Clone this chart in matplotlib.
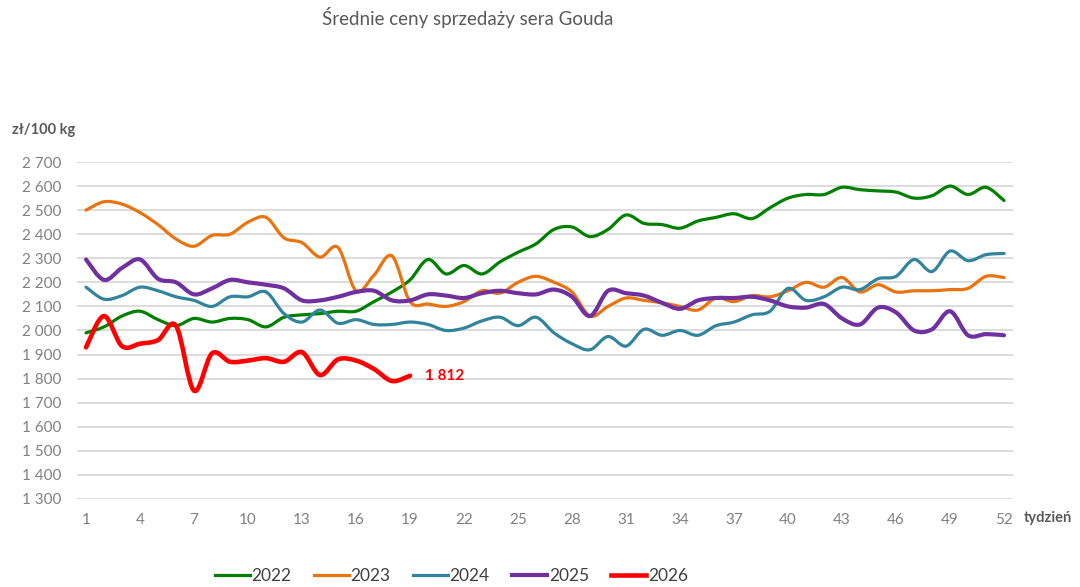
import matplotlib.pyplot as plt
import numpy as np
from matplotlib.path import Path
from matplotlib.patches import PathPatch
from matplotlib.lines import Line2D
from matplotlib.ticker import FuncFormatter

plt.rcParams['font.family'] = ['Lato', 'DejaVu Sans']

# Data: average selling prices of Gouda cheese, PLN per 100 kg, by week
weeks = list(range(1, 53))
p2022 = [1990, 2015, 2060, 2080, 2045, 2020, 2050, 2035, 2050, 2045, 2015, 2055, 2065,
         2070, 2080, 2080, 2120, 2160, 2210, 2295, 2235, 2270, 2235, 2285, 2325, 2360,
         2420, 2430, 2390, 2420, 2480, 2445, 2440, 2425, 2455, 2470, 2485, 2465, 2510,
         2550, 2565, 2565, 2595, 2585, 2580, 2575, 2550, 2560, 2600, 2565, 2595, 2540]
p2023 = [2500, 2535, 2525, 2490, 2440, 2380, 2350, 2395, 2400, 2450, 2470, 2385, 2365,
         2305, 2345, 2165, 2230, 2310, 2120, 2110, 2100, 2120, 2165, 2155, 2200, 2225,
         2200, 2160, 2060, 2100, 2135, 2125, 2115, 2100, 2085, 2135, 2120, 2145, 2140,
         2165, 2200, 2180, 2220, 2160, 2190, 2160, 2165, 2165, 2170, 2175, 2225, 2220]
p2024 = [2180, 2130, 2145, 2180, 2165, 2140, 2125, 2100, 2140, 2140, 2160, 2070, 2035,
         2085, 2030, 2045, 2025, 2025, 2035, 2025, 2000, 2010, 2040, 2055, 2020, 2055,
         1990, 1945, 1920, 1975, 1935, 2005, 1980, 2000, 1980, 2020, 2035, 2065, 2080,
         2175, 2125, 2140, 2180, 2170, 2215, 2225, 2295, 2245, 2330, 2290, 2315, 2320]
p2025 = [2295, 2210, 2260, 2295, 2215, 2200, 2150, 2175, 2210, 2200, 2190, 2175, 2125,
         2125, 2140, 2160, 2165, 2125, 2125, 2150, 2145, 2135, 2155, 2165, 2155, 2150,
         2170, 2140, 2060, 2165, 2155, 2145, 2115, 2090, 2125, 2135, 2135, 2140, 2125,
         2100, 2095, 2110, 2050, 2025, 2095, 2075, 2000, 2005, 2080, 1980, 1985, 1980]
p2026 = [1930, 2060, 1935, 1945, 1960, 2020, 1750, 1905, 1870, 1875, 1885, 1870, 1910,
         1815, 1880, 1875, 1840, 1790, 1812]

series = [("2022", p2022, "#008000", 2.3),
          ("2023", p2023, "#E9730F", 2.3),
          ("2024", p2024, "#31849B", 2.3),
          ("2025", p2025, "#7030A0", 3.0),
          ("2026", p2026, "#FF0000", 3.3)]


def smooth_path(x, y):
    # Excel-style smoothed line: Catmull-Rom segments as cubic Bezier curves
    pts = np.column_stack([x, y]).astype(float)
    n = len(pts)
    verts = [pts[0]]
    codes = [Path.MOVETO]
    for i in range(n - 1):
        p0 = pts[i - 1] if i > 0 else pts[i]
        p1 = pts[i]
        p2 = pts[i + 1]
        p3 = pts[i + 2] if i + 2 < n else pts[i + 1]
        c1 = p1 + (p2 - p0) / 6
        c2 = p2 - (p3 - p1) / 6
        verts += [c1, c2, p2]
        codes += [Path.CURVE4] * 3
    return Path(verts, codes)


fig = plt.figure(figsize=(10.8, 5.87), dpi=100)
ax = fig.add_axes([0.0713, 0.150, 0.8667, 0.574])

handles = []
for name, vals, col, lw in series:
    ax.add_patch(PathPatch(smooth_path(weeks[:len(vals)], vals), fill=False,
                           edgecolor=col, lw=lw, capstyle='round', joinstyle='round'))
    handles.append(Line2D([], [], color=col, lw=lw))

ax.set_xlim(0.5, 52.5)
ax.set_ylim(1300, 2700)
ax.set_xticks(range(1, 53, 3))
ax.set_yticks(range(1300, 2701, 100))
ax.yaxis.set_major_formatter(FuncFormatter(lambda v, p: f"{int(v):,}".replace(",", " ")))
ax.tick_params(length=0, labelsize=11, labelcolor="#808080")
ax.tick_params(axis='x', pad=10)
ax.tick_params(axis='y', pad=11)
ax.grid(axis='y', color="#D9D9D9", lw=1.3)
ax.set_axisbelow(True)
for s in ax.spines.values():
    s.set_visible(False)

ax.annotate("1 812", (19, p2026[-1]), xytext=(11, 0), textcoords='offset points',
            color="#FF0000", fontweight='bold', fontsize=11, va='center')

fig.text(0.433, 0.97, "Średnie ceny sprzedaży sera Gouda", ha='center', va='center',
         fontsize=13.5, color="#595959")
fig.text(0.011, 0.778, "zł/100 kg", ha='left', va='center', fontsize=10.5,
         fontweight='bold', color="#595959")
fig.text(0.948, 0.118, "tydzień", ha='left', va='center', fontsize=10.5,
         fontweight='bold', color="#595959")

fig.legend(handles, [s[0] for s in series], loc='center', bbox_to_anchor=(0.418, 0.018),
           ncol=5, frameon=False, fontsize=12.5, handlelength=2.0, handletextpad=0.1,
           columnspacing=1.3, labelcolor="#404040")

fig.savefig("out.png", dpi=100)
